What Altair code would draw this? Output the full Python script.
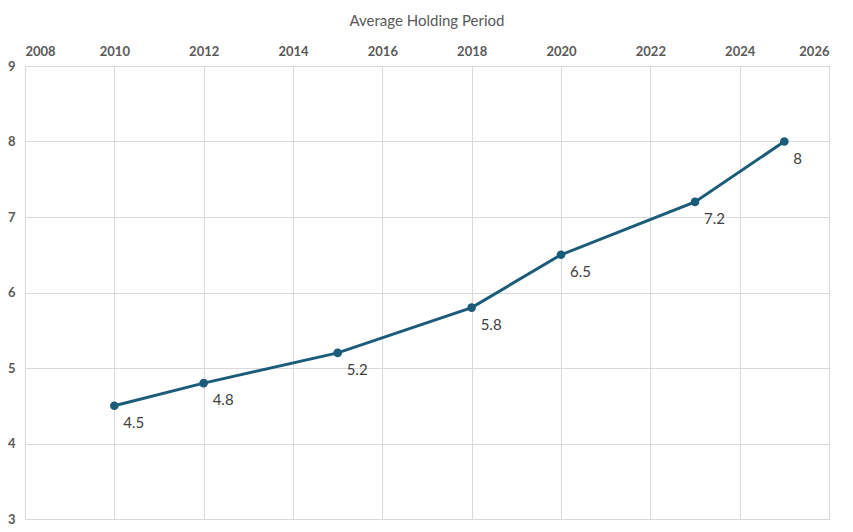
import altair as alt
import pandas as pd

years = [2010, 2012, 2015, 2018, 2020, 2023, 2025]
holding = [4.5, 4.8, 5.2, 5.8, 6.5, 7.2, 8.0]
labels = ["4.5", "4.8", "5.2", "5.8", "6.5", "7.2", "8"]
x_ticks = list(range(2008, 2027, 2))
y_ticks = [3, 4, 5, 6, 7, 8, 9]

df = pd.DataFrame({"year": years, "value": holding, "label": labels})

color = "#1b5c7a"
font = "Lato"

x = alt.X("year:Q",
          scale=alt.Scale(domain=[2008, 2026], nice=False, zero=False),
          axis=alt.Axis(orient="top", values=x_ticks, format="d", title=None,
                        labelFontWeight="bold", labelFontSize=13, labelColor="#595959",
                        labelFont=font, ticks=False, domain=False, labelPadding=8,
                        gridColor="#d9d9d9", gridWidth=1))
y = alt.Y("value:Q",
          scale=alt.Scale(domain=[3, 9], nice=False, zero=False),
          axis=alt.Axis(values=y_ticks, title=None,
                        labelFontWeight="bold", labelFontSize=13, labelColor="#595959",
                        labelFont=font, ticks=False, domain=False, labelPadding=10,
                        gridColor="#d9d9d9", gridWidth=1))

base = alt.Chart(df).encode(x=x, y=y)

line = base.mark_line(color=color, strokeWidth=3)
points = base.mark_point(filled=True, color=color, size=75, opacity=1)
text = base.mark_text(align="left", baseline="middle", dx=9, dy=17,
                      fontSize=15, color="#404040", font=font).encode(text="label:N")

chart = (line + points + text).properties(
    width=804, height=453,
    padding={"left": 17, "top": 58, "right": 16, "bottom": 10},
    autosize=alt.AutoSizeParams(type="none"),
    title=alt.TitleParams("Average Holding Period", fontSize=15, fontWeight="normal",
                          color="#595959", font=font, offset=16, anchor="middle"),
).configure_view(stroke=None).configure(background="white")

chart.save("out.html", embed_options={"renderer": "svg", "actions": False})
